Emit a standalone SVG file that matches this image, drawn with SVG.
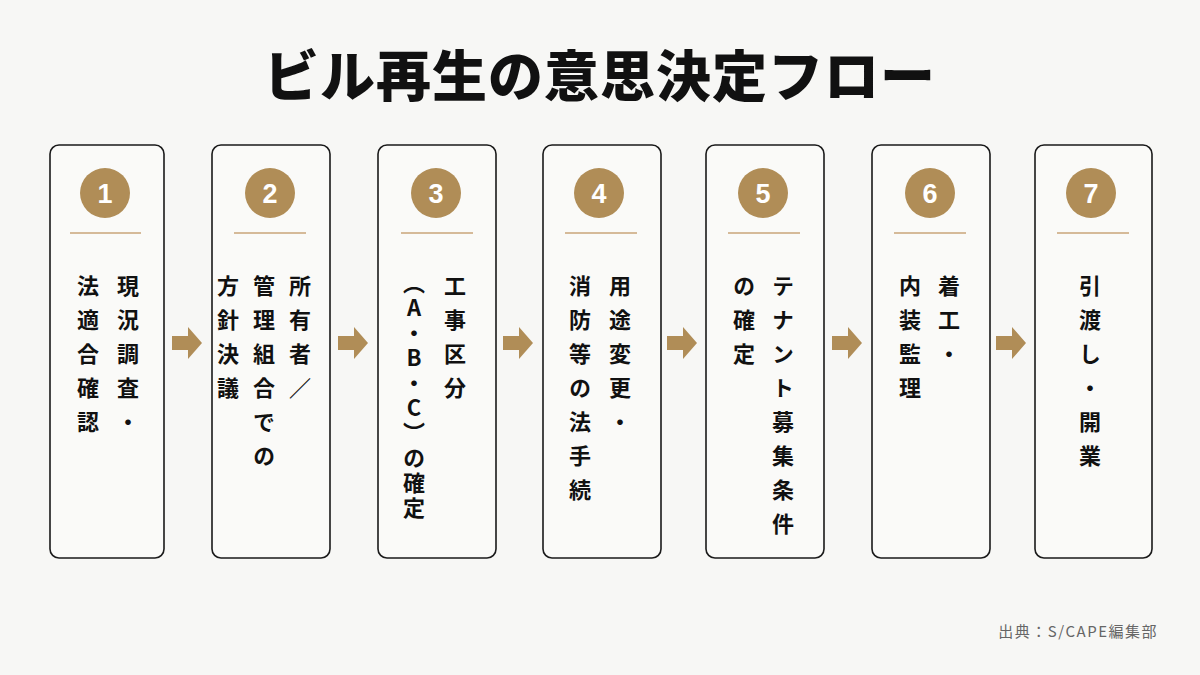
<svg xmlns="http://www.w3.org/2000/svg" width="1200" height="675" viewBox="0 0 1200 675">
<style>
.box{fill:#fafaf8;stroke:#1a1a1a;stroke-width:1.6}
.num{fill:#b08d57}
.nt{font-family:"Liberation Sans",Arial,sans-serif;font-weight:700;font-size:27px;fill:#fff;text-anchor:middle}
.div{stroke:#c9a57a;stroke-width:1.6}
.v{font-family:"Noto Sans CJK JP","Noto Sans",sans-serif;font-weight:700;font-size:22px;fill:#111;writing-mode:vertical-rl;text-orientation:upright;letter-spacing:12px}
.arr{fill:#b08d57}
</style>
<rect width="1200" height="675" fill="#f7f7f5"/>
<text x="600" y="96" text-anchor="middle" font-family="Noto Sans CJK JP,sans-serif" font-weight="900" font-size="55" letter-spacing="1" fill="#111">ビル再生の意思決定フロー</text>
<g id="connectors">
<path class="arr" d="M172 336h16v-9l14 16-14 16v-9h-16z"/>
<path class="arr" d="M338 336h16v-9l14 16-14 16v-9h-16z"/>
<path class="arr" d="M503 336h16v-9l14 16-14 16v-9h-16z"/>
<path class="arr" d="M667 336h16v-9l14 16-14 16v-9h-16z"/>
<path class="arr" d="M832 336h16v-9l14 16-14 16v-9h-16z"/>
<path class="arr" d="M996 336h16v-9l14 16-14 16v-9h-16z"/>
</g>
<g id="n1"><rect class="box" x="50" y="145" width="114" height="413" rx="9"/><circle class="num" cx="105" cy="193" r="25"/><text class="nt" x="105" y="203">1</text><line class="div" x1="70" y1="233" x2="141" y2="233"/>
<text class="v" x="128" y="275">現況調査・</text><text class="v" x="88" y="275">法適合確認</text></g>
<g id="n2"><rect class="box" x="212" y="145" width="118" height="413" rx="9"/><circle class="num" cx="270" cy="193" r="25"/><text class="nt" x="270" y="203">2</text><line class="div" x1="234" y1="233" x2="306" y2="233"/>
<text class="v" x="300" y="275">所有者／</text><text class="v" x="264" y="275">管理組合での</text><text class="v" x="228" y="275">方針決議</text></g>
<g id="n3"><rect class="box" x="378" y="145" width="118" height="413" rx="9"/><circle class="num" cx="436" cy="193" r="25"/><text class="nt" x="436" y="203">3</text><line class="div" x1="401" y1="233" x2="473" y2="233"/>
<text class="v" x="455" y="275">工事区分</text><text class="v" x="414" y="272" style="letter-spacing:3px">（A・B・C）の確定</text></g>
<g id="n4"><rect class="box" x="543" y="145" width="118" height="413" rx="9"/><circle class="num" cx="599" cy="193" r="25"/><text class="nt" x="599" y="203">4</text><line class="div" x1="565" y1="233" x2="637" y2="233"/>
<text class="v" x="620" y="275">用途変更・</text><text class="v" x="580" y="275">消防等の法手続</text></g>
<g id="n5"><rect class="box" x="706" y="145" width="118" height="413" rx="9"/><circle class="num" cx="763" cy="193" r="25"/><text class="nt" x="763" y="203">5</text><line class="div" x1="728" y1="233" x2="800" y2="233"/>
<text class="v" x="783" y="275">テナント募集条件</text><text class="v" x="744" y="275">の確定</text></g>
<g id="n6"><rect class="box" x="872" y="145" width="118" height="413" rx="9"/><circle class="num" cx="930" cy="193" r="25"/><text class="nt" x="930" y="203">6</text><line class="div" x1="894" y1="233" x2="966" y2="233"/>
<text class="v" x="949" y="275">着工・</text><text class="v" x="910" y="275">内装監理</text></g>
<g id="n7"><rect class="box" x="1035" y="145" width="117" height="413" rx="9"/><circle class="num" cx="1091" cy="193" r="25"/><text class="nt" x="1091" y="203">7</text><line class="div" x1="1057" y1="233" x2="1129" y2="233"/>
<text class="v" x="1090" y="275">引渡し・開業</text></g>
<text x="1158" y="637" text-anchor="end" font-family="Noto Sans CJK JP,sans-serif" font-size="15" fill="#666" letter-spacing="1.5">出典：S/CAPE編集部</text>
</svg>
